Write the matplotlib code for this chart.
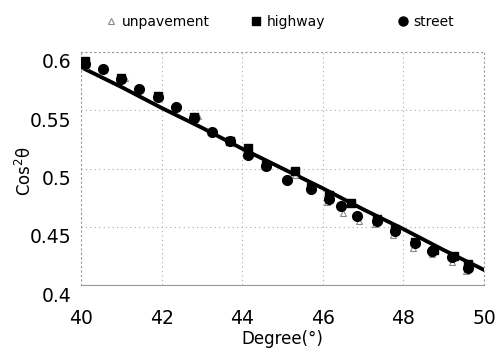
import matplotlib
matplotlib.use("Agg")
import matplotlib.pyplot as plt
import matplotlib.transforms as mtransforms
from matplotlib.lines import Line2D

# ---- data ----
theory_x = [40, 41, 42, 43, 44, 45, 46, 47, 48, 49, 50]
theory_y = [0.587, 0.570, 0.552, 0.535, 0.517, 0.500, 0.483, 0.465, 0.448, 0.430, 0.413]

street_x = [40.1, 40.55, 41.0, 41.45, 41.9, 42.35, 42.8, 43.25, 43.7, 44.15, 44.6, 45.1,
            45.7, 46.15, 46.45, 46.85, 47.35, 47.8, 48.3, 48.7, 49.2, 49.6]
street_y = [0.590, 0.585, 0.577, 0.568, 0.561, 0.553, 0.543, 0.531, 0.524, 0.512, 0.502, 0.490,
            0.482, 0.474, 0.468, 0.459, 0.455, 0.446, 0.436, 0.429, 0.424, 0.415]

highway_x = [40.1, 41.0, 41.9, 42.8, 43.7, 44.15, 44.6, 45.3, 45.7, 46.15, 46.7, 47.35,
             47.8, 48.3, 48.75, 49.25, 49.6]
highway_y = [0.592, 0.578, 0.562, 0.544, 0.524, 0.518, 0.503, 0.498, 0.484, 0.477, 0.470, 0.457,
             0.448, 0.437, 0.430, 0.425, 0.418]

unpave_x = [40.1, 41.1, 42.9, 44.1, 45.3, 46.1, 46.5, 46.9, 47.3, 47.75, 48.25, 48.7, 49.2, 49.55]
unpave_y = [0.588, 0.578, 0.545, 0.512, 0.494, 0.471, 0.462, 0.455, 0.452, 0.443, 0.432, 0.427,
            0.420, 0.412]

x_ticks = [40, 42, 44, 46, 48, 50]
y_ticks = [0.4, 0.45, 0.5, 0.55, 0.6]
y_tick_labels = ["0.4", "0.45", "0.5", "0.55", "0.6"]

# ---- figure ----
fig = plt.figure(figsize=(5.01, 3.57), dpi=100)
ax = fig.add_axes([81/501, 1-285/357, (484-81)/501, (285-52)/357])

ax.plot(theory_x, theory_y, color="black", lw=2.8, zorder=2)
ax.plot(unpave_x, unpave_y, ls="none", marker="^", ms=4.5, mfc="white", mec="#888888",
        mew=0.8, zorder=3)
ax.plot(highway_x, highway_y, ls="none", marker="s", ms=5.5, color="black", zorder=4)
ax.plot(street_x, street_y, ls="none", marker="o", ms=7, color="black", zorder=5)

ax.set_xlim(40, 50)
ax.set_ylim(0.4, 0.6)
ax.set_xticks(x_ticks)
ax.set_yticks(y_ticks)
ax.set_yticklabels(y_tick_labels)
ax.tick_params(axis="both", length=0, labelsize=13.5)
ax.tick_params(axis="x", pad=17)
ax.tick_params(axis="y", pad=7)

# shift y tick labels slightly downward as in the reference
offset = mtransforms.ScaledTranslation(0, -9/100, fig.dpi_scale_trans)
for lab in ax.get_yticklabels():
    lab.set_transform(lab.get_transform() + offset)

ax.grid(True, ls=(0, (1, 3)), lw=0.8, color="#aaaaaa")
for sp in ["left", "top", "right"]:
    ax.spines[sp].set_linestyle((0, (1, 3)))
    ax.spines[sp].set_color("#999999")
    ax.spines[sp].set_linewidth(0.8)
ax.spines["bottom"].set_color("#999999")
ax.spines["bottom"].set_linewidth(0.8)

ax.set_xlabel("Degree(°)", fontsize=12, labelpad=2)
fig.text(25/501, 1-171/357, r"Cos$^{2}$θ", rotation=90, fontsize=12,
         ha="center", va="center")

# legend entries placed individually
entries = [
    (Line2D([], [], ls="none", marker="^", ms=4.5, mfc="white", mec="#888888", mew=0.8), "unpavement", 105),
    (Line2D([], [], ls="none", marker="s", ms=6, color="black"), "highway", 250),
    (Line2D([], [], ls="none", marker="o", ms=6.5, color="black"), "street", 397),
]
for h, lab, px in entries:
    fig.legend([h], [lab], loc="center left", bbox_to_anchor=(px/501, 1-22/357),
               frameon=False, fontsize=10, handlelength=0.8, handletextpad=0.4,
               borderpad=0, borderaxespad=0)

fig.savefig("out.png", dpi=100)
